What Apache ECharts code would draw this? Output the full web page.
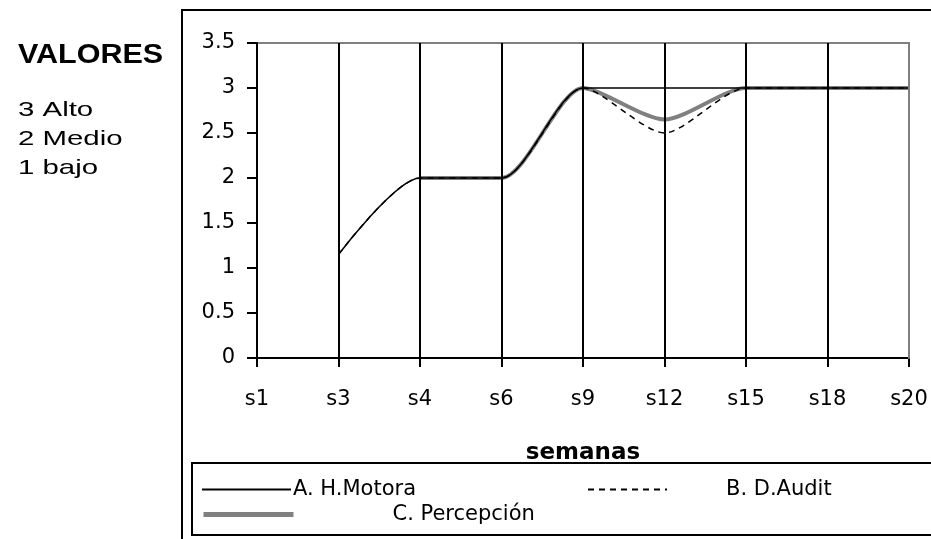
<!DOCTYPE html>
<html>
<head>
<meta charset="utf-8">
<script src="https://cdn.jsdelivr.net/npm/echarts@6/dist/echarts.min.js"></script>
<style>
  html, body { margin: 0; padding: 0; background: #fff; }
  #chart { width: 931px; height: 539px; }
</style>
</head>
<body>
<div id="chart"></div>
<script>
// semanas (categorias del eje x)
const semanas = ['s1', 's3', 's4', 's6', 's9', 's12', 's15', 's18', 's20']
// valores
const hMotora = [null, 1.15, 2, 2, 3, 3, 3, 3, 3]
const dAudit = [null, 1.15, 2, 2, 3, 2.5, 3, 3, 3]
const percepcion = [null, null, 2, 2, 3, 2.65, 3, 3, 3]
const yTicks = [0, 3.5, 0.5] // min, max, intervalo
const nombres = ['A. H.Motora', 'B. D.Audit', 'C. Percepción']
const valores = ['VALORES', '3 Alto', '2 Medio', '1 bajo']

const font = 'DejaVu Sans'
const arial = 'Liberation Sans, Arial, sans-serif'
const chart = echarts.init(document.getElementById('chart'))

const legendText = (pad) => ({ fontFamily: font, fontSize: 21, color: '#000', padding: [0, 0, 0, pad] })

const option = {
    animation: false,
    textStyle: { fontFamily: font, color: '#000' },
    grid: { left: 257, right: 22, top: 43, bottom: 181 },
    xAxis: [
        {
            type: 'category',
            data: semanas,
            boundaryGap: false,
            name: 'semanas',
            nameLocation: 'middle',
            nameGap: 84,
            nameTextStyle: { fontFamily: font, fontWeight: 'bold', fontSize: 23, color: '#000' },
            axisLine: { lineStyle: { color: '#000', width: 2 } },
            axisTick: { show: true, length: 9, inside: false, lineStyle: { color: '#000', width: 2 } },
            axisLabel: { fontFamily: font, fontSize: 21, color: '#000', margin: 31, interval: 0 },
            splitLine: { show: true, interval: 0, lineStyle: { color: '#000', width: 2 } },
            z: 6
        },
        {
            // borde superior gris del area de trazado
            type: 'category',
            data: semanas,
            boundaryGap: false,
            position: 'top',
            axisLine: { onZero: false, lineStyle: { color: '#808080', width: 2 } },
            axisTick: { show: false },
            axisLabel: { show: false },
            splitLine: { show: false }
        }
    ],
    yAxis: [
        {
            type: 'value',
            min: yTicks[0],
            max: yTicks[1],
            interval: yTicks[2],
            axisLine: { show: true, onZero: false, lineStyle: { color: '#000', width: 2 } },
            axisTick: { show: true, length: 10, lineStyle: { color: '#000', width: 2 } },
            axisLabel: { fontFamily: font, fontSize: 21, color: '#000', margin: 22 },
            splitLine: { show: false },
            z: 6
        },
        {
            // borde derecho gris
            type: 'value',
            position: 'right',
            min: yTicks[0],
            max: yTicks[1],
            interval: yTicks[2],
            axisLine: { show: true, onZero: false, lineStyle: { color: '#808080', width: 2 } },
            axisTick: { show: false },
            axisLabel: { show: false },
            splitLine: { show: false },
            z: 8
        }
    ],
    legend: [
        {
            data: [nombres[0]], left: 201, top: 479, padding: 0,
            itemWidth: 89, itemHeight: 16,
            itemStyle: { opacity: 0 },
            lineStyle: { width: 2 },
            textStyle: legendText(-3)
        },
        {
            data: [nombres[1]], left: 587, top: 479, padding: 0,
            itemWidth: 79, itemHeight: 16,
            itemStyle: { opacity: 0 },
            lineStyle: { width: 2 },
            textStyle: legendText(54)
        },
        {
            data: [nombres[2]], left: 201, top: 504, padding: 0,
            itemWidth: 90, itemHeight: 16,
            itemStyle: { opacity: 0 },
            lineStyle: { width: 5 },
            textStyle: legendText(94)
        }
    ],
    series: [
        {
            name: nombres[2],
            type: 'line',
            data: percepcion,
            smooth: 0.25,
            symbol: 'none',
            lineStyle: { color: '#808080', width: 4 },
            itemStyle: { color: '#808080' },
            z: 2
        },
        {
            name: nombres[1],
            type: 'line',
            data: dAudit,
            smooth: 0.25,
            symbol: 'none',
            lineStyle: { color: '#000', width: 1.5, type: [6, 5] },
            itemStyle: { color: '#000' },
            z: 3
        },
        {
            name: nombres[0],
            type: 'line',
            data: hMotora,
            smooth: 0.25,
            symbol: 'none',
            lineStyle: { color: '#000', width: 1.5 },
            itemStyle: { color: '#000' },
            z: 4
        }
    ],
    graphic: [
        // marco exterior del grafico
        { type: 'rect', shape: { x: 182, y: 10, width: 900, height: 700 }, style: { fill: 'none', stroke: '#000', lineWidth: 2 }, silent: true },
        // marco de la leyenda
        { type: 'rect', shape: { x: 192, y: 463, width: 900, height: 72 }, style: { fill: 'none', stroke: '#000', lineWidth: 2 }, silent: true },
        { type: 'text', x: 18, y: 42, scaleX: 1.13, style: { text: valores[0], fontFamily: arial, fontWeight: 'bold', fontSize: 27, fill: '#000' } },
        { type: 'text', x: 18, y: 100, scaleX: 1.4, style: { text: valores[1], fontFamily: arial, fontSize: 21, fill: '#000' } },
        { type: 'text', x: 18, y: 129, scaleX: 1.4, style: { text: valores[2], fontFamily: arial, fontSize: 21, fill: '#000' } },
        { type: 'text', x: 18, y: 158, scaleX: 1.4, style: { text: valores[3], fontFamily: arial, fontSize: 21, fill: '#000' } }
    ]
}

chart.setOption(option)
</script>
</body>
</html>
